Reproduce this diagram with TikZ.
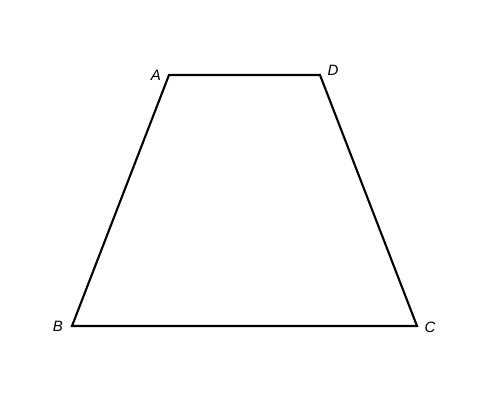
\documentclass[tikz,border=0pt]{standalone}
\usepackage{fontspec}
\setmainfont{Liberation Sans}
\begin{document}
\begin{tikzpicture}[x=1pt,y=-1pt,
  lbl/.style={font=\fontsize{15}{17}\selectfont\itshape, inner sep=0pt}]
\useasboundingbox (0,0) rectangle (500,406);
\coordinate (A) at (169,75);
\coordinate (D) at (320,75);
\coordinate (C) at (417,326);
\coordinate (B) at (72,326);
\draw[line width=2.1pt, line join=miter] (A) -- (D) -- (C) -- (B) -- cycle;
\node[lbl] (lA) at (156,75) {A};
\node[lbl] (lD) at (333,70) {D};
\node[lbl] (lB) at (58,326) {B};
\node[lbl] (lC) at (430,327) {C};
\end{tikzpicture}
\end{document}
